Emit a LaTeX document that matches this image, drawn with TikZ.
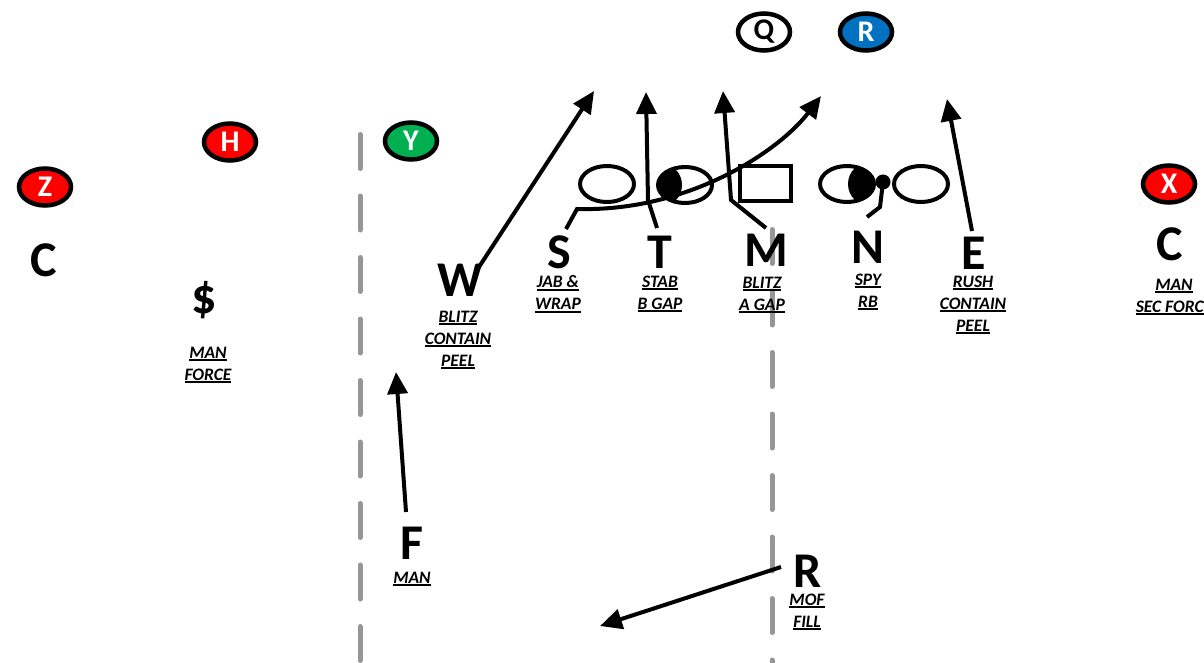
\documentclass[tikz,border=0pt]{standalone}
\usepackage{fontspec}
\setmainfont{Carlito}
\usetikzlibrary{arrows.meta,shapes.geometric}
\definecolor{zonegray}{RGB}{150,150,150}
\definecolor{wrred}{RGB}{255,0,0}
\definecolor{tegreen}{RGB}{0,176,80}
\definecolor{rbblue}{RGB}{0,112,192}
\newcommand{\uln}[1]{\setbox0\hbox{#1}\rlap{\rule[-3pt]{\wd0}{2pt}}\box0}

\begin{document}
\begin{tikzpicture}[x=1pt,y=-1pt]
\tikzstyle{player}=[ellipse,draw=black,line width=4.5pt,minimum width=52pt,minimum height=37pt,inner sep=0pt,text=white,font=\bfseries\fontsize{30}{30}\selectfont]
\tikzstyle{lineman}=[ellipse,draw=black,line width=4pt,minimum width=54pt,minimum height=36pt,inner sep=0pt]
\tikzstyle{defender}=[inner sep=0pt,font=\bfseries\fontsize{50}{50}\selectfont]
\tikzstyle{task}=[inner sep=0pt,align=center,font=\bfseries\itshape\fontsize{17.5}{22}\selectfont]
\tikzstyle{run}=[line width=4pt,-{Triangle[length=22pt,width=20pt]}]
\tikzstyle{zone}=[line width=5pt,draw=zonegray,dash pattern=on 34pt off 27.5pt,line cap=round]
\useasboundingbox (0,0) rectangle (1204,663);
% zones
\draw[zone] (360,134.5) -- (360,663);
\draw[zone] (772,229.5) -- (772,663);
% offense
\foreach \name/\letter/\colour/\point in {
	z/Z/wrred/{45,187},
	h/H/wrred/{230,142},
	y/Y/tegreen/{411,141},
	x/X/wrred/{1169,184},
	rb/R/rbblue/{866,32}}
	\node[player,fill=\colour] (\name) at (\point) {\letter};
\node[player,text=black] (q) at (764,32) {Q};
\node[lineman] (lt) at (607,184) {};
\node[lineman,path picture={\fill ([xshift=2pt]path picture bounding box.west) circle (22pt);}] (lg) at (685,185) {};
\node[draw,line width=4pt,minimum width=51pt,minimum height=35pt,inner sep=0pt] (ctr) at (765,184) {};
\node[lineman,path picture={\fill ([xshift=-4pt]path picture bounding box.east) circle (22pt);}] (rg) at (847,184) {};
\node[circle,fill=black,inner sep=0pt,minimum size=15pt] (te) at (883,182) {};
\node[lineman] (rt) at (921,184) {};
% defense
\foreach \name/\letter/\point in {
	C1/C/{44,260},
	D/\$/{204,300},
	W/W/{460,280},
	S/S/{559,252},
	T/T/{660,252},
	M/M/{766,250},
	N/N/{868,247},
	E/E/{974,253},
	C2/C/{1170,244},
	F/F/{412,543},
	R/R/{808,571}}
	\node[defender] (\name) at (\point) {\letter};
\foreach \name/\lines/\point in {
	dtask/{\uln{MAN}\\\uln{FORCE}}/{208,365},
	wtask/{\uln{BLITZ}\\\uln{CONTAIN}\\\uln{PEEL}}/{458,340},
	stask/{\uln{JAB \&}\\\uln{WRAP}}/{558,294},
	ttask/{\uln{STAB}\\\uln{B GAP}}/{660,294},
	mtask/{\uln{BLITZ}\\\uln{A GAP}}/{762,295},
	ntask/{\uln{SPY}\\\uln{RB}}/{868,292},
	etask/{\uln{RUSH}\\\uln{CONTAIN}\\\uln{PEEL}}/{973,305},
	ctask/{\uln{MAN}\\\uln{SEC FORCE}}/{1174,297},
	ftask/{\uln{MAN}}/{412,579},
	rtask/{\uln{MOF}\\\uln{FILL}}/{807,612}}
	\node[task] (\name) at (\point) {\lines};
% paths
\foreach \name/\point in {
	w0/{477,270}, w1/{594,91},
	t0/{657,228}, t1/{648,200}, t2/{646,92},
	m0/{766,228}, m1/{731,200}, m2/{723,91},
	s0/{566,229}, s1/{577,209}, s2/{821,96},
	e0/{972,231}, e1/{947,99},
	n0/{880,207}, n1/{867,217},
	f0/{406,512}, f1/{396,372},
	r0/{781,567}, r1/{600,626}}
	\coordinate (\name) at (\point);
\draw[run] (w0) -- (w1);
\draw[run] (t0) -- (t1) -- (t2);
\draw[run] (m0) -- (m1) -- (m2);
\draw[run] (s0) -- (s1) .. controls (690,212) and (780,150) .. (s2);
\draw[run] (e0) -- (e1);
\draw[line width=4pt] (te.center) -- (n0) -- (n1);
\draw[run] (f0) -- (f1);
\draw[run] (r0) -- (r1);
\end{tikzpicture}
\end{document}
